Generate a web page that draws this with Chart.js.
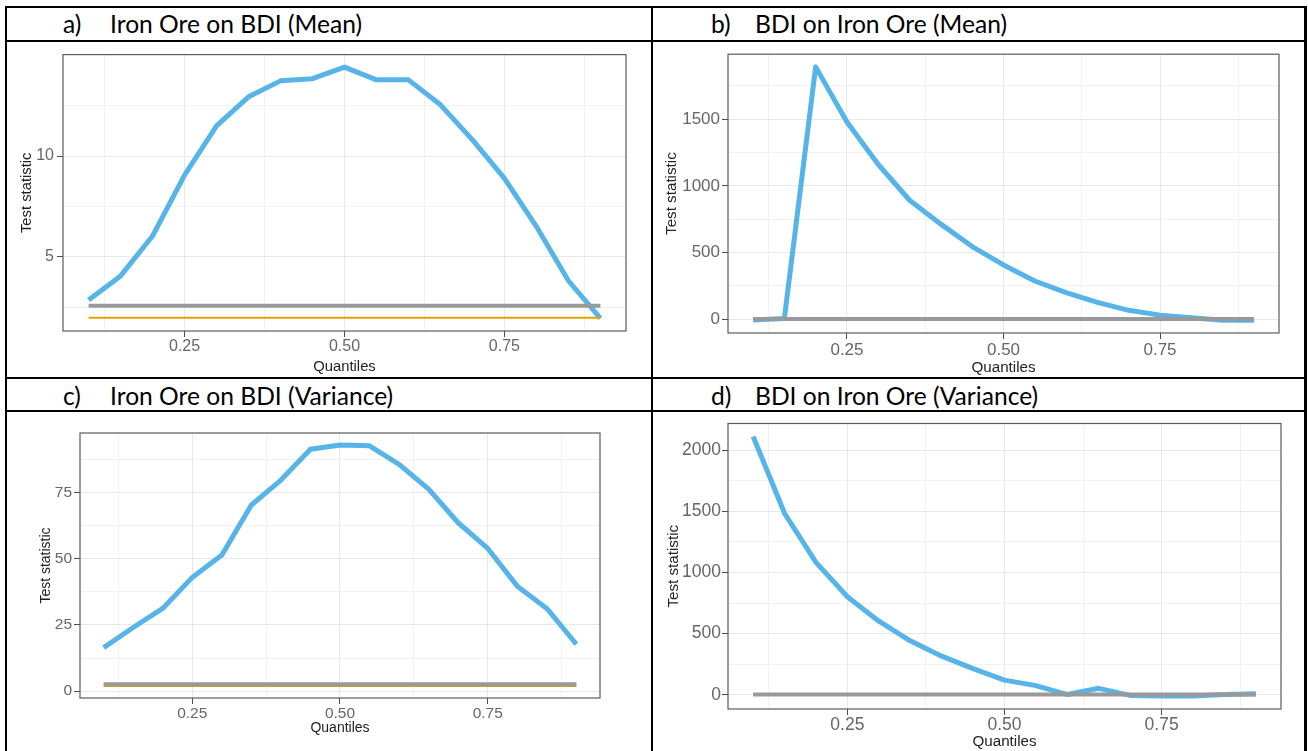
<!DOCTYPE html>
<html>
<head>
<meta charset="utf-8">
<script src="https://cdn.jsdelivr.net/npm/chart.js@4.4.0/dist/chart.umd.min.js"></script>
<style>
    html, body { margin: 0; padding: 0; background: #fff; }
    body { width: 1308px; height: 751px; position: relative; overflow: hidden; }
    .linha { position: absolute; background: #000; z-index: 2; }
    .cab { position: absolute; font-family: Lato, 'Noto Sans', sans-serif; font-size: 24.6px; line-height: 1; color: #000; white-space: nowrap; z-index: 3; }
    canvas { position: absolute; z-index: 1; }
</style>
</head>
<body>
<!-- linhas da tabela -->
<div class="linha" style="left:5px;top:6px;width:1302px;height:2px"></div>
<div class="linha" style="left:5px;top:40px;width:1302px;height:2px"></div>
<div class="linha" style="left:5px;top:377px;width:1302px;height:2px"></div>
<div class="linha" style="left:5px;top:410px;width:1302px;height:2px"></div>
<div class="linha" style="left:5px;top:6px;width:2px;height:745px"></div>
<div class="linha" style="left:651px;top:6px;width:2px;height:745px"></div>
<div class="linha" style="left:1304px;top:6px;width:3px;height:745px"></div>

<div class="cab" style="left:63px;top:12px">a)</div>
<div class="cab" style="left:110px;top:12px">Iron Ore on BDI (Mean)</div>
<div class="cab" style="left:711px;top:12px">b)</div>
<div class="cab" style="left:755px;top:12px">BDI on Iron Ore (Mean)</div>
<div class="cab" style="left:63px;top:384px">c)</div>
<div class="cab" style="left:110px;top:384px">Iron Ore on BDI (Variance)</div>
<div class="cab" style="left:711px;top:384px">d)</div>
<div class="cab" style="left:755px;top:384px">BDI on Iron Ore (Variance)</div>

<canvas id="graf-a" width="644" height="335" style="left:7px;top:42px"></canvas>
<canvas id="graf-b" width="651" height="335" style="left:653px;top:42px"></canvas>
<canvas id="graf-c" width="644" height="339" style="left:7px;top:412px"></canvas>
<canvas id="graf-d" width="651" height="339" style="left:653px;top:412px"></canvas>

<script>
// Quantis avaliados
const quantis = [0.10, 0.15, 0.20, 0.25, 0.30, 0.35, 0.40, 0.45, 0.50, 0.55, 0.60, 0.65, 0.70, 0.75, 0.80, 0.85, 0.90];

// Estatística de teste (linha azul)
const estatMinerioBdiMedia = [2.86, 4.05, 6.03, 9.05, 11.5, 12.94, 13.73, 13.84, 14.41, 13.78, 13.78, 12.54, 10.8, 8.89, 6.5, 3.81, 1.94];
const estatBdiMinerioMedia = [-5, 5, 1892, 1478, 1160, 892, 713, 545, 407, 287, 199, 127, 67, 31, 12, -8, -8];
const estatMinerioBdiVar = [16.4, 24.0, 31.2, 42.9, 51.3, 70.2, 79.6, 91.2, 92.8, 92.5, 85.5, 76.2, 63.5, 53.8, 39.6, 31.2, 17.7];
const estatBdiMinerioVar = [2112, 1484, 1083, 802, 602, 441, 316, 214, 120, 75, 2, 53, -5, -10, -10, 3, 8];

// Valores críticos (linhas horizontais)
const valorCriticoCinza = 2.57;
const valorCriticoLaranja = 1.97;

// Marcas dos eixos
const ticksX = [0.25, 0.50, 0.75];
const rotulosX = ['0.25', '0.50', '0.75'];
const ticksXMenores = [0.125, 0.375, 0.625, 0.875];

const ticksYa = [5, 10];
const ticksYaMenores = [2.5, 7.5, 12.5];
const ticksYb = [0, 500, 1000, 1500];
const ticksYbMenores = [250, 750, 1250, 1750];
const ticksYc = [0, 25, 50, 75];
const ticksYcMenores = [12.5, 37.5, 62.5, 87.5];
const ticksYd = [0, 500, 1000, 1500, 2000];
const ticksYdMenores = [250, 750, 1250, 1750];

const cores = { azul: '#56B4E9', cinza: '#999999', laranja: '#E69F00' };

// borda do painel (estilo theme_bw)
const bordaPainel = {
    id: 'bordaPainel',
    afterDatasetsDraw(chart) {
        const { ctx, chartArea: a } = chart;
        ctx.save();
        ctx.strokeStyle = '#5a5a5a';
        ctx.lineWidth = 1.2;
        ctx.strokeRect(a.left, a.top, a.right - a.left, a.bottom - a.top);
        ctx.restore();
    }
};

function limitesComExpansao(valores) {
    const min = Math.min(...valores);
    const max = Math.max(...valores);
    const ext = (max - min) * 0.05;
    return { min: min - ext, max: max + ext };
}

function criarPainel(p) {
    const canvas = document.getElementById(p.id);
    const larg = canvas.width, alt = canvas.height;
    const todos = p.serie.concat([valorCriticoCinza, valorCriticoLaranja]);
    const limY = limitesComExpansao(todos);
    const limX = limitesComExpansao(quantis);
    const primeiro = quantis[0], ultimo = quantis[quantis.length - 1];

    const fonteTick = { family: "'Liberation Sans', Arial, sans-serif", size: p.fonteTick };
    const fonteTitulo = { family: "'Liberation Sans', Arial, sans-serif", size: p.fonteTitulo };

    const corGrade = (menores) => (c) => (c.tick && menores.includes(c.tick.value)) ? '#f2f2f2' : '#e8e8e8';
    const corMarca = (menores) => (c) => (c.tick && menores.includes(c.tick.value)) ? 'rgba(0,0,0,0)' : '#4d4d4d';

    new Chart(canvas.getContext('2d'), {
        type: 'line',
        data: {
            datasets: [
                {
                    label: 'cinza',
                    data: [{ x: primeiro, y: valorCriticoCinza }, { x: ultimo, y: valorCriticoCinza }],
                    borderColor: cores.cinza, borderWidth: 4, pointRadius: 0
                },
                {
                    label: 'laranja',
                    data: [{ x: primeiro, y: valorCriticoLaranja }, { x: ultimo, y: valorCriticoLaranja }],
                    borderColor: cores.laranja, borderWidth: 2, pointRadius: 0
                },
                {
                    label: 'estatística',
                    data: quantis.map((q, i) => ({ x: q, y: p.serie[i] })),
                    borderColor: cores.azul, borderWidth: 5, pointRadius: 0,
                    borderJoinStyle: 'round'
                }
            ]
        },
        options: {
            responsive: false,
            animation: false,
            devicePixelRatio: 1,
            layout: { padding: { left: 0, bottom: 0, top: p.area[1] - p.caixa[1], right: p.caixa[0] + larg - p.area[2] } },
            plugins: { legend: { display: false }, tooltip: { enabled: false } },
            scales: {
                x: {
                    type: 'linear',
                    min: limX.min, max: limX.max,
                    afterBuildTicks: (s) => { s.ticks = ticksXMenores.concat(ticksX).sort((a, b) => a - b).map(v => ({ value: v })); },
                    afterFit: (s) => { s.height = p.caixa[1] + alt - p.area[3]; },
                    border: { display: false },
                    grid: { color: corGrade(ticksXMenores), tickColor: corMarca(ticksXMenores), tickLength: 6, lineWidth: 1 },
                    ticks: {
                        autoSkip: false, maxRotation: 0, padding: p.padTickX, color: '#666', font: fonteTick,
                        callback: (v) => { const i = ticksX.indexOf(v); return i >= 0 ? rotulosX[i] : ''; }
                    },
                    title: { display: true, text: 'Quantiles', color: '#222', font: fonteTitulo, padding: { top: 0, bottom: p.padTituloX } }
                },
                y: {
                    type: 'linear',
                    min: limY.min, max: limY.max,
                    afterBuildTicks: (s) => { s.ticks = p.menoresY.concat(p.ticksY).sort((a, b) => a - b).map(v => ({ value: v })); },
                    afterFit: (s) => { s.width = p.area[0] - p.caixa[0]; },
                    border: { display: false },
                    grid: { color: corGrade(p.menoresY), tickColor: corMarca(p.menoresY), tickLength: 6, lineWidth: 1 },
                    ticks: {
                        autoSkip: false, padding: p.padTickY, color: '#666', font: fonteTick,
                        callback: (v) => p.ticksY.includes(v) ? String(v) : ''
                    },
                    title: { display: true, text: 'Test statistic', color: '#222', font: fonteTitulo, padding: { top: p.padTituloY, bottom: 0 } }
                }
            }
        },
        plugins: [bordaPainel]
    });
}

// caixa = [esquerda, topo] do canvas; area = [esq, topo, dir, base] da área do gráfico (coordenadas da página)
const paineis = [
    { id: 'graf-a', caixa: [7, 42], area: [63, 45.7, 626, 331], serie: estatMinerioBdiMedia, ticksY: ticksYa, menoresY: ticksYaMenores,
      fonteTick: 16, fonteTitulo: 14.8, padTickX: 0, padTickY: 3, padTituloX: 1, padTituloY: 11 },
    { id: 'graf-b', caixa: [653, 42], area: [728, 46, 1279, 333], serie: estatBdiMinerioMedia, ticksY: ticksYb, menoresY: ticksYbMenores,
      fonteTick: 17, fonteTitulo: 15.2, padTickX: 1, padTickY: 2, padTituloX: 0, padTituloY: 10 },
    { id: 'graf-c', caixa: [7, 412], area: [80, 433, 600, 698], serie: estatMinerioBdiVar, ticksY: ticksYc, menoresY: ticksYcMenores,
      fonteTick: 15.5, fonteTitulo: 14, padTickX: 0, padTickY: 2, padTituloX: 14.6, padTituloY: 30.6 },
    { id: 'graf-d', caixa: [653, 412], area: [728, 419, 1281, 709], serie: estatBdiMinerioVar, ticksY: ticksYd, menoresY: ticksYdMenores,
      fonteTick: 17.5, fonteTitulo: 15.2, padTickX: 0, padTickY: 1, padTituloX: 0, padTituloY: 11.4 }
];

paineis.forEach(criarPainel);
</script>
</body>
</html>
